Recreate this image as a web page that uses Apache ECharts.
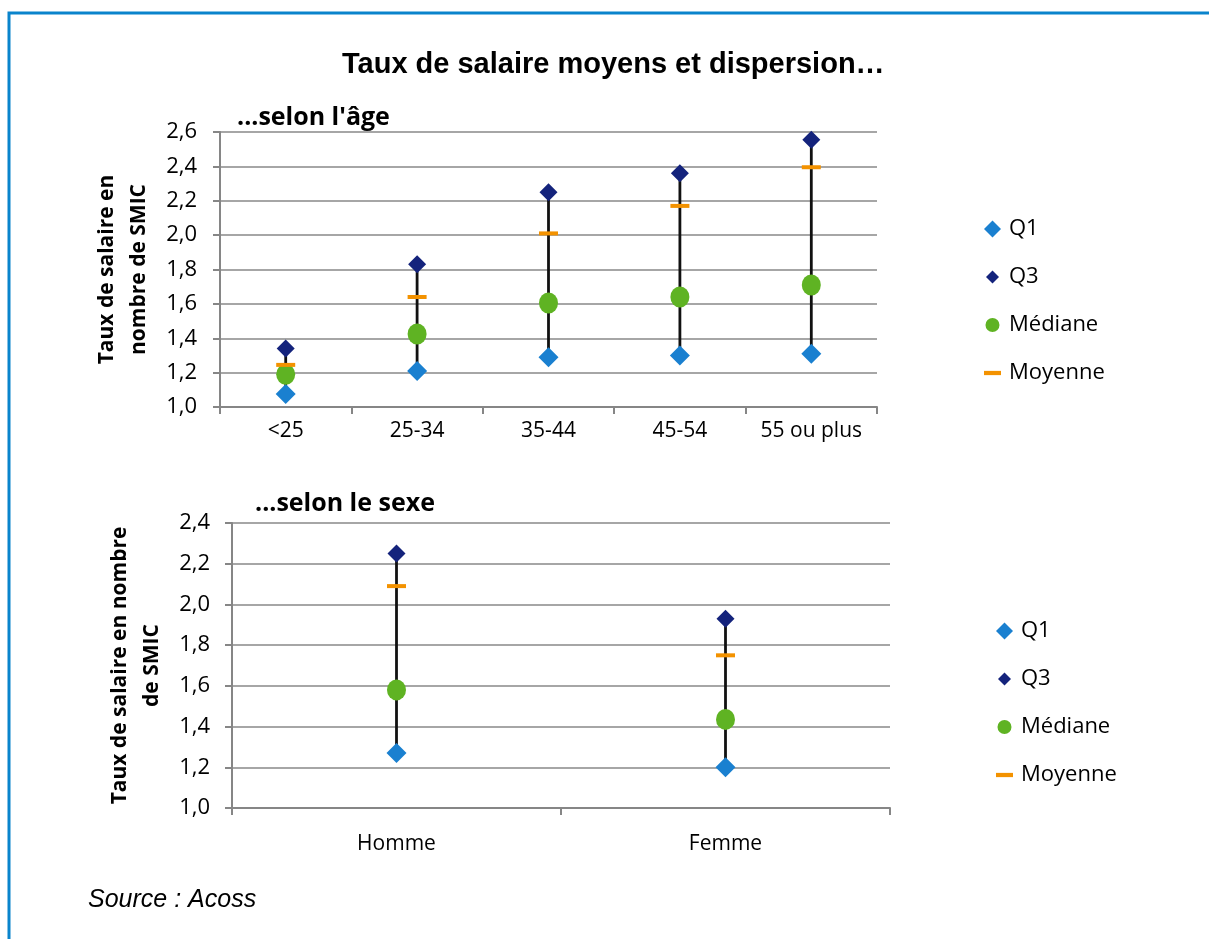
<!DOCTYPE html>
<html>
<head>
<meta charset="utf-8">
<script src="https://cdn.jsdelivr.net/npm/echarts@6/dist/echarts.min.js"></script>
<style>
html,body{margin:0;padding:0;background:#fff;}
#c{width:1209px;height:939px;}
</style>
</head>
<body>
<div id="c"></div>
<script>
// ---- data ----
const ageCategories = ['<25', '25-34', '35-44', '45-54', '55 ou plus'];
const ageQ1 = [1.075, 1.21, 1.29, 1.30, 1.31];
const ageQ3 = [1.34, 1.83, 2.25, 2.36, 2.555];
const ageMedian = [1.19, 1.425, 1.605, 1.64, 1.71];
const ageMean = [1.245, 1.64, 2.01, 2.17, 2.395];

const sexCategories = ['Homme', 'Femme'];
const sexQ1 = [1.27, 1.20];
const sexQ3 = [2.25, 1.93];
const sexMedian = [1.58, 1.435];
const sexMean = [2.09, 1.75];

const mainTitle = 'Taux de salaire moyens et dispersion…';
const ageTitle = '...selon l\'âge';
const sexTitle = '...selon le sexe';
const ageAxisName = 'Taux de salaire en\nnombre de SMIC';
const sexAxisName = 'Taux de salaire en nombre\nde SMIC';
const sourceText = 'Source : Acoss';
const seriesNames = ['Q1', 'Q3', 'Médiane', 'Moyenne'];

// ---- styling ----
const FONT = 'Open Sans';
const C_Q1 = '#1a80d0';
const C_Q3 = '#14237c';
const C_MED = '#5fb323';
const C_MEAN = '#f39200';
const C_AXIS = '#868686';
const C_GRID = '#a6a6a6';
const meanIcon = 'path://M0,0 L16,0 L16,4 L0,4 Z';

function fmt(v) { return v.toFixed(1).replace('.', ','); }

function whisker(params, api) {
  const top = api.coord([api.value(0), api.value(2)]);
  const bot = api.coord([api.value(0), api.value(1)]);
  return {
    type: 'line',
    shape: { x1: top[0], y1: top[1], x2: bot[0], y2: bot[1] },
    style: { stroke: '#111', lineWidth: 2.8 }
  };
}

function buildSeries(idx, q1, q3, med, mean) {
  const rangeData = q1.map((v, i) => [i, v, q3[i]]);
  return [
    { type: 'custom', xAxisIndex: idx, yAxisIndex: idx, renderItem: whisker,
      data: rangeData, z: 1, silent: true, encode: { x: 0, y: [1, 2] } },
    { name: 'Q1', type: 'scatter', xAxisIndex: idx, yAxisIndex: idx, data: q1,
      symbol: 'diamond', symbolSize: 20, itemStyle: { color: C_Q1, opacity: 1 }, z: 3 },
    { name: 'Q3', type: 'scatter', xAxisIndex: idx, yAxisIndex: idx, data: q3,
      symbol: 'diamond', symbolSize: 18, itemStyle: { color: C_Q3, opacity: 1 }, z: 3 },
    { name: 'Médiane', type: 'scatter', xAxisIndex: idx, yAxisIndex: idx, data: med,
      symbol: 'circle', symbolSize: [19, 21], itemStyle: { color: C_MED, opacity: 1 }, z: 4 },
    { name: 'Moyenne', type: 'scatter', xAxisIndex: idx, yAxisIndex: idx, data: mean,
      symbol: 'rect', symbolSize: [19, 4], itemStyle: { color: C_MEAN, opacity: 1 }, z: 5 }
  ];
}

function legendCfg(left, top) {
  return {
    orient: 'vertical', left: left, top: top, padding: 0,
    itemWidth: 17, itemHeight: 17, itemGap: 26, symbolKeepAspect: true,
    selectedMode: false,
    textStyle: { fontFamily: FONT, fontSize: 22, color: '#000', padding: [0, 0, 0, 3] },
    data: [
      { name: 'Q1', icon: 'diamond', itemStyle: { color: C_Q1, opacity: 1 } },
      { name: 'Q3', icon: 'path://M0,0 M2,8.5 L8.5,2 L15,8.5 L8.5,15 Z M17,17', itemStyle: { color: C_Q3, opacity: 1 } },
      { name: 'Médiane', icon: 'path://M0,0 M8.5,1.5 A7,7 0 1 1 8.49,1.5 Z M17,17', itemStyle: { color: C_MED, opacity: 1 } },
      { name: 'Moyenne', icon: meanIcon, itemStyle: { color: C_MEAN, opacity: 1 } }
    ]
  };
}

function xAxisCfg(idx, cats, margin) {
  return {
    type: 'category', gridIndex: idx, data: cats, boundaryGap: true,
    axisLine: { lineStyle: { color: C_AXIS, width: 2 } },
    axisTick: { show: true, length: 7, lineStyle: { color: C_AXIS, width: 2 } },
    axisLabel: { fontFamily: FONT, fontSize: 21, color: '#000', margin: margin, interval: 0, hideOverlap: false },
    splitLine: { show: false }
  };
}

function yAxisCfg(idx, min, max, name, nameGap, labelMargin) {
  return {
    type: 'value', gridIndex: idx, min: min, max: max, interval: 0.2,
    name: name, nameLocation: 'middle', nameGap: nameGap, nameRotate: 90,
    nameTextStyle: { fontFamily: FONT, fontSize: 21, fontWeight: 'bold', color: '#000', lineHeight: 32 },
    axisLine: { show: true, lineStyle: { color: C_AXIS, width: 2 } },
    axisTick: { show: true, length: 7, lineStyle: { color: C_AXIS, width: 2 } },
    axisLabel: { fontFamily: FONT, fontSize: 22, color: '#000', margin: labelMargin, formatter: fmt },
    splitLine: { show: true, lineStyle: { color: C_GRID, width: 2 } }
  };
}

const chart = echarts.init(document.getElementById('c'), null, { renderer: 'canvas' });
chart.setOption({
  backgroundColor: '#fff',
  animation: false,
  title: [
    { text: mainTitle, left: 342, top: 50, padding: 0,
      textStyle: { fontFamily: 'Liberation Sans', fontSize: 29, fontWeight: 'bold', color: '#000' } },
    { text: ageTitle, left: 237, top: 105, padding: 0,
      textStyle: { fontFamily: FONT, fontSize: 25, fontWeight: 'bold', color: '#000' } },
    { text: sexTitle, left: 255, top: 491, padding: 0,
      textStyle: { fontFamily: FONT, fontSize: 25, fontWeight: 'bold', color: '#000' } },
    { text: sourceText, left: 88, top: 888, padding: 0,
      textStyle: { fontFamily: 'Liberation Sans', fontSize: 25, fontStyle: 'italic', fontWeight: 'normal', color: '#000' } }
  ],
  legend: [legendCfg(984, 218), legendCfg(996, 620)],
  grid: [
    { left: 220, top: 132, width: 657, height: 275 },
    { left: 232, top: 523, width: 658, height: 285 }
  ],
  xAxis: [xAxisCfg(0, ageCategories, 14), xAxisCfg(1, sexCategories, 26)],
  yAxis: [yAxisCfg(0, 1.0, 2.6, ageAxisName, 64, 23), yAxisCfg(1, 1.0, 2.4, sexAxisName, 63, 22)],
  series: [].concat(
    buildSeries(0, ageQ1, ageQ3, ageMedian, ageMean),
    buildSeries(1, sexQ1, sexQ3, sexMedian, sexMean)
  ),
  graphic: [
    { type: 'polyline', silent: true, z: 10,
      shape: { points: [[9, 939], [9, 13], [1209, 13]] },
      style: { stroke: '#0a84cc', lineWidth: 3, fill: null } }
  ]
});
</script>
</body>
</html>
